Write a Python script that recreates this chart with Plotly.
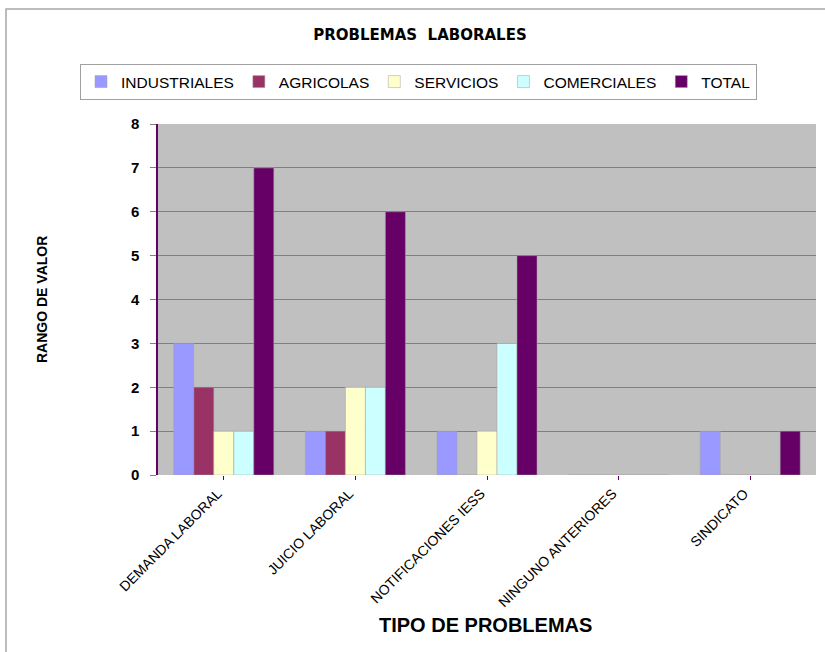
import plotly.graph_objects as go

# Categories and series
categorias = ["DEMANDA LABORAL", "JUICIO LABORAL", "NOTIFICACIONES IESS",
              "NINGUNO ANTERIORES", "SINDICATO"]
industriales = [3, 1, 1, 0, 1]
agricolas = [2, 1, 0, 0, 0]
servicios = [1, 2, 1, 0, 0]
comerciales = [1, 2, 3, 0, 0]
total = [7, 6, 5, 0, 1]

series = [
    ("INDUSTRIALES", industriales, "#9999FF"),
    ("AGRICOLAS", agricolas, "#993366"),
    ("SERVICIOS", servicios, "#FFFFCC"),
    ("COMERCIALES", comerciales, "#CCFFFF"),
    ("TOTAL", total, "#660066"),
]

W, H = 825, 652
L, R, T, B = 158, 9, 124, 177
pw, ph = W - L - R, H - T - B


def px(x):
    return (x - L) / pw


def py(y):
    return (H - B - y) / ph


fig = go.Figure()
for name, vals, color in series:
    fig.add_trace(go.Bar(
        x=categorias, y=vals, name=name,
        marker=dict(color=color, line=dict(color="#A0A0A0", width=0.5)),
    ))

font_family = "Liberation Sans, Arial, sans-serif"

fig.update_layout(
    width=W, height=H,
    margin=dict(l=L, r=R, t=T, b=B),
    paper_bgcolor="white",
    plot_bgcolor="#C0C0C0",
    barmode="group",
    bargap=0.24,
    bargroupgap=0,
    font=dict(family=font_family, color="black"),
    title=dict(
        text="<b>PROBLEMAS  LABORALES</b>",
        x=420 / W, xanchor="center",
        y=1 - 35 / H, yanchor="middle",
        font=dict(size=15, family="DejaVu Sans, sans-serif"),
    ),
    legend=dict(
        orientation="h",
        x=px(80), xanchor="left",
        y=py(64), yanchor="top",
        bordercolor="#A0A0A0", borderwidth=1,
        font=dict(size=15.5),
        itemwidth=30,
        tracegroupgap=0,
    ),
    xaxis=dict(
        tickangle=-45,
        tickfont=dict(size=14),
        ticks="outside", ticklen=4, tickcolor="#660066",
        ticklabelshift=-6,
        showline=False,
        showgrid=False,
    ),
    yaxis=dict(
        range=[0, 8], dtick=1,
        tickfont=dict(size=15, weight="bold"),
        ticks="outside", ticklen=6, tickcolor="#808080",
        ticklabelstandoff=8,
        showline=True, linecolor="#660066", linewidth=1.5,
        showgrid=True, gridcolor="#808080", gridwidth=1,
        zeroline=False,
    ),
    annotations=[
        dict(text="<b>RANGO DE VALOR</b>", xref="paper", yref="paper",
             x=px(42), y=py(300), textangle=-90, showarrow=False,
             font=dict(size=14), xanchor="center", yanchor="middle"),
        dict(text="<b>TIPO DE PROBLEMAS</b>", xref="paper", yref="paper",
             x=px(485), y=py(625), showarrow=False,
             font=dict(size=20), xanchor="center", yanchor="middle"),
    ],
    shapes=[
        dict(type="rect", xref="paper", yref="paper",
             x0=px(6), x1=px(830), y0=py(660), y1=py(9),
             line=dict(color="#A8A8A8", width=1.5), layer="below"),
    ],
)

fig.write_html("out.html")
